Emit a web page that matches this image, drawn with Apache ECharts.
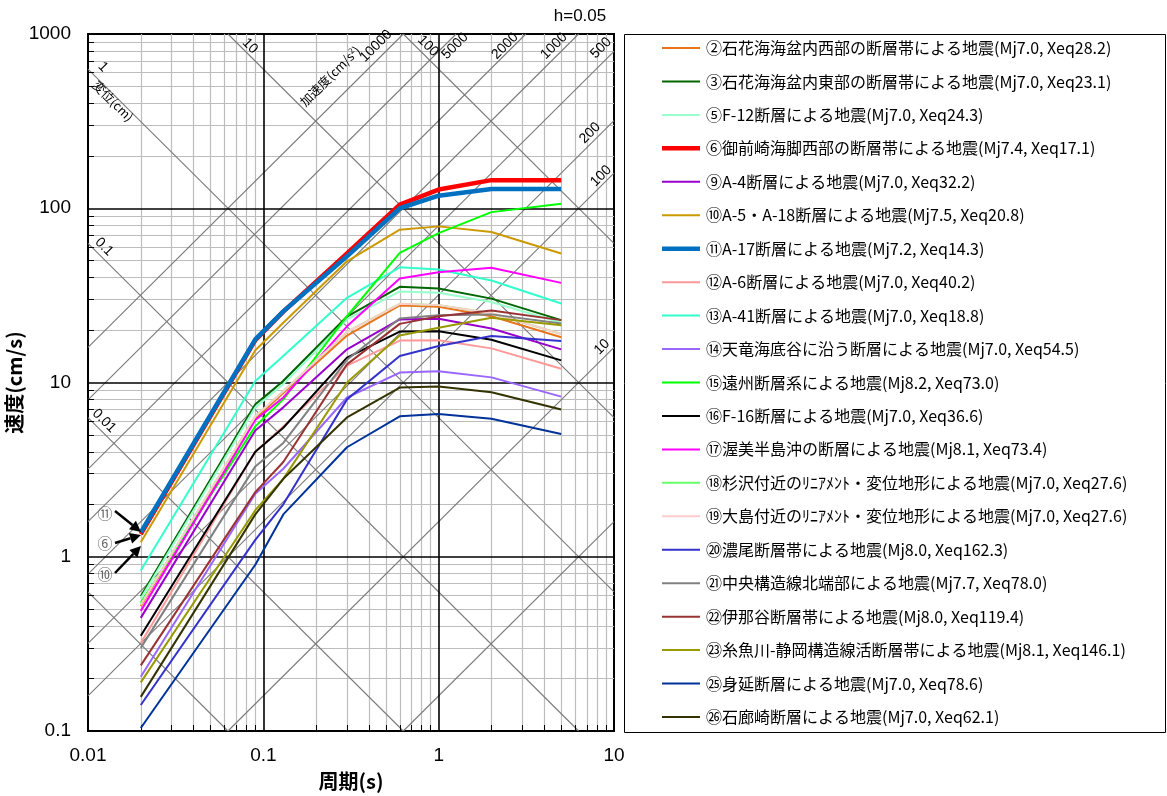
<!DOCTYPE html>
<html><head><meta charset="utf-8">
<script src="https://cdn.jsdelivr.net/npm/echarts@6/dist/echarts.min.js"></script>
<style>html,body{margin:0;padding:0;background:#fff}#c{width:1167px;height:796px}</style>
</head><body><div id="c"></div>
<script>
// ---- data ----
const periods = [0.02, 0.09, 0.13, 0.3, 0.6, 1, 2, 5];
const eq02 = [0.52, 6.2, 8.7, 18.6, 27.7, 27.2, 24.0, 18.2];
const eq03 = [0.593, 7.5, 10.2, 23.9, 35.4, 34.6, 30.3, 22.8];
const eq05 = [0.575, 7.2, 9.8, 23.0, 33.3, 32.7, 29.0, 22.0];
const eq06 = [1.35, 17.5, 25.5, 55, 105, 128, 145, 145];
const eq09 = [0.446, 5.3, 7.2, 15.5, 23.0, 23.2, 20.4, 15.5];
const eq10 = [1.21, 15.3, 22.0, 49.6, 75.3, 78.7, 73, 55];
const eq11 = [1.38, 17.7, 25.6, 53, 100, 118, 129, 129];
const eq12 = [0.32, 4.0, 5.6, 12.5, 17.4, 17.5, 15.7, 12.0];
const eq13 = [0.835, 10.2, 14.2, 30.6, 45.8, 44.5, 38.5, 28.4];
const eq14 = [0.205, 2.3, 3.2, 8.2, 11.4, 11.6, 10.7, 8.3];
const eq15 = [0.545, 5.6, 8.0, 24.0, 55.4, 72, 95, 106];
const eq16 = [0.352, 4.0, 5.5, 13.9, 19.6, 19.7, 17.6, 13.4];
const eq17 = [0.489, 6.1, 8.2, 21.0, 39.5, 42.9, 45.5, 37.3];
const eq18 = [0.53, 6.4, 8.9, 19.5, 28.3, 27.8, 25.0, 19.0];
const eq19 = [0.53, 6.4, 8.9, 19.5, 28.3, 27.8, 25.0, 19.0];
const eq20 = [0.141, 1.25, 2.0, 8.0, 14.2, 16.2, 18.5, 17.3];
const eq21 = [0.30, 3.3, 4.5, 13.5, 23.3, 24.3, 24.6, 21.8];
const eq22 = [0.238, 2.35, 3.5, 12.7, 21.7, 24.0, 25.9, 22.8];
const eq23 = [0.19, 1.85, 2.8, 10.0, 18.6, 20.6, 23.5, 21.3];
const eq25 = [0.104, 0.9, 1.75, 4.25, 6.4, 6.6, 6.2, 5.06];
const eq26 = [0.157, 1.75, 2.8, 6.3, 9.35, 9.5, 8.8, 7.0];

const seriesNames = [
  '②石花海海盆内西部の断層帯による地震(Mj7.0, Xeq28.2)',
  '③石花海海盆内東部の断層帯による地震(Mj7.0, Xeq23.1)',
  '⑤F-12断層による地震(Mj7.0, Xeq24.3)',
  '⑥御前崎海脚西部の断層帯による地震(Mj7.4, Xeq17.1)',
  '⑨A-4断層による地震(Mj7.0, Xeq32.2)',
  '⑩A-5・A-18断層による地震(Mj7.5, Xeq20.8)',
  '⑪A-17断層による地震(Mj7.2, Xeq14.3)',
  '⑫A-6断層による地震(Mj7.0, Xeq40.2)',
  '⑬A-41断層による地震(Mj7.0, Xeq18.8)',
  '⑭天竜海底谷に沿う断層による地震(Mj7.0, Xeq54.5)',
  '⑮遠州断層系による地震(Mj8.2, Xeq73.0)',
  '⑯F-16断層による地震(Mj7.0, Xeq36.6)',
  '⑰渥美半島沖の断層による地震(Mj8.1, Xeq73.4)',
  '⑱杉沢付近のﾘﾆｱﾒﾝﾄ・変位地形による地震(Mj7.0, Xeq27.6)',
  '⑲大島付近のﾘﾆｱﾒﾝﾄ・変位地形による地震(Mj7.0, Xeq27.6)',
  '⑳濃尾断層帯による地震(Mj8.0, Xeq162.3)',
  '㉑中央構造線北端部による地震(Mj7.7, Xeq78.0)',
  '㉒伊那谷断層帯による地震(Mj8.0, Xeq119.4)',
  '㉓糸魚川-静岡構造線活断層帯による地震(Mj8.1, Xeq146.1)',
  '㉕身延断層による地震(Mj7.0, Xeq78.6)',
  '㉖石廊崎断層による地震(Mj7.0, Xeq62.1)'
];
const seriesValues = [eq02, eq03, eq05, eq06, eq09, eq10, eq11, eq12, eq13, eq14, eq15, eq16, eq17, eq18, eq19, eq20, eq21, eq22, eq23, eq25, eq26];
const seriesColors = ['#E8741E','#006600','#99FFCC','#FF0000','#9900CC','#CC9900','#0070C0','#FF9999','#33FFCC','#9966FF','#00FF00','#000000','#FF00FF','#66FF66','#FFCCCC','#3333CC','#808080','#993333','#999900','#003399','#333300'];
const thickSeries = ['⑥', '⑪'];

const xTicks = [0.01, 0.1, 1, 10];
const yTicks = [0.1, 1, 10, 100, 1000];
const dispLines = [0.001, 0.01, 0.1, 1, 10, 100];   // cm
const accLines = [1, 10, 100, 200, 500, 1000, 2000, 5000, 10000]; // cm/s2

// ---- chart ----
const chart = echarts.init(document.getElementById('c'));
const FONT = '"Noto Sans CJK JP", "Liberation Sans", sans-serif';
const TMIN = 0.01, TMAX = 10, VMIN = 0.1, VMAX = 1000;
const TWO_PI = 2 * Math.PI;

function minorVals(lo, hi) {
  const out = [];
  for (let d = lo; d < hi * 0.999; d *= 10) for (let m = 2; m <= 9; m++) out.push(+(m * d).toPrecision(3));
  return out;
}
const minorX = minorVals(TMIN, TMAX), minorY = minorVals(VMIN, VMAX);
const majorX = xTicks.slice(1, -1), majorY = yTicks.slice(1, -1);

const gridMinor = [];
minorX.forEach(x => gridMinor.push({coords: [[x, VMIN], [x, VMAX]]}));
minorY.forEach(y => gridMinor.push({coords: [[TMIN, y], [TMAX, y]]}));
const gridMajor = [];
majorX.forEach(x => gridMajor.push({coords: [[x, VMIN], [x, VMAX]]}));
majorY.forEach(y => gridMajor.push({coords: [[TMIN, y], [TMAX, y]]}));
const tickLen = Math.pow(10, 6 / 175);
const ticks = [];
minorX.forEach(x => ticks.push({coords: [[x, VMIN], [x, VMIN * tickLen]]}));
minorY.forEach(y => ticks.push({coords: [[TMIN, y], [TMIN * tickLen, y]]}));

const diag = [];
dispLines.forEach(D => {
  const t1 = Math.max(TMIN, TWO_PI * D / VMAX), t2 = Math.min(TMAX, TWO_PI * D / VMIN);
  if (t1 < t2) diag.push({coords: [[t1, TWO_PI * D / t1], [t2, TWO_PI * D / t2]]});
});
accLines.forEach(A => {
  const t1 = Math.max(TMIN, TWO_PI * VMIN / A), t2 = Math.min(TMAX, TWO_PI * VMAX / A);
  if (t1 < t2) diag.push({coords: [[t1, A * t1 / TWO_PI], [t2, A * t2 / TWO_PI]]});
});

const series = [
  {type: 'lines', coordinateSystem: 'cartesian2d', silent: true, z: 1, polyline: false,
   lineStyle: {color: '#BDBDBD', width: 1.2, opacity: 1}, data: gridMinor},
  {type: 'lines', coordinateSystem: 'cartesian2d', silent: true, z: 2, polyline: false,
   lineStyle: {color: '#7A7A7A', width: 1.1, opacity: 1}, data: diag},
  {type: 'lines', coordinateSystem: 'cartesian2d', silent: true, z: 3, polyline: false,
   lineStyle: {color: '#000', width: 1.6, opacity: 1}, data: gridMajor},
  {type: 'lines', coordinateSystem: 'cartesian2d', silent: true, z: 3, polyline: false,
   lineStyle: {color: '#000', width: 1, opacity: 1}, data: ticks}
];
seriesNames.forEach((n, i) => {
  const thick = thickSeries.some(p => n.startsWith(p));
  series.push({
    type: 'line', name: n, symbol: 'none', z: 5 + i, silent: true,
    lineStyle: {color: seriesColors[i], width: thick ? 4.5 : 2},
    data: periods.map((t, k) => [t, seriesValues[i][k]])
  });
});

const fmt = v => String(+(+v).toPrecision(3));
const option = {
  animation: false,
  backgroundColor: '#fff',
  grid: {left: 88, top: 34, width: 526, height: 699, show: true, borderColor: '#000', borderWidth: 2, backgroundColor: 'transparent'},
  xAxis: {type: 'log', logBase: 10, min: TMIN, max: TMAX,
    axisLine: {show: true, onZero: false, lineStyle: {color: '#000', width: 2}},
    axisTick: {show: false}, splitLine: {show: false}, minorTick: {show: false},
    axisLabel: {color: '#000', fontSize: 19, fontFamily: '"Liberation Sans", sans-serif', margin: 15, formatter: fmt},
    name: '周期(s)', nameLocation: 'middle', nameGap: 40,
    nameTextStyle: {color: '#000', fontSize: 20, fontFamily: FONT, fontWeight: 'bold'}},
  yAxis: {type: 'log', logBase: 10, min: VMIN, max: VMAX,
    axisLine: {show: true, onZero: false, lineStyle: {color: '#000', width: 2}},
    axisTick: {show: false}, splitLine: {show: false}, minorTick: {show: false},
    axisLabel: {color: '#000', fontSize: 19, fontFamily: '"Liberation Sans", sans-serif', margin: 17, formatter: fmt},
    name: '速度(cm/s)', nameLocation: 'middle', nameGap: 62, nameRotate: 90,
    nameTextStyle: {color: '#000', fontSize: 20, fontFamily: FONT, fontWeight: 'bold'}},
  series: series
};
chart.setOption(option);

// ---- annotations / legend (graphic) ----
const g = [];
function txt(x, y, s, rot, size, extra) {
  g.push(Object.assign({type: 'text', x: x, y: y, rotation: rot || 0, z: 50, silent: true,
    style: Object.assign({text: s, fontSize: size || 13, fontFamily: '"Liberation Sans", "Noto Sans CJK JP", sans-serif', fill: '#000', align: 'center', verticalAlign: 'middle'}, extra || {})}));
}
const R = Math.PI / 4;
// displacement labels
txt(250, 46, '10', -R, 14);
txt(428, 46, '100', -R, 14);
txt(103, 67, '1', -R, 14);
txt(104, 247, '0.1', -R, 14);
txt(104, 421, '0.01', -R, 14);
txt(113, 101, '変位(cm)', -R, 12.5, {fontFamily: FONT});
// acceleration labels
g.push({type: 'text', x: 330, y: 76, rotation: R, z: 50, silent: true,
  style: {text: '加速度(cm/s{s|2})', fontSize: 12.5, fontFamily: FONT, fill: '#000', align: 'center', verticalAlign: 'middle',
    rich: {s: {fontSize: 8, verticalAlign: 'top', fontFamily: FONT, padding: [0, 0, 6, 0]}}}});
txt(376, 46, '10000', R, 14);
txt(455, 46, '5000', R, 14);
txt(505, 46, '2000', R, 14);
txt(554, 46, '1000', R, 14);
txt(601, 48, '500', R, 14);
txt(590, 133, '200', R, 14);
txt(601, 176, '100', R, 14);
txt(602, 347, '10', R, 14);
// title
txt(580, 16, 'h=0.05', 0, 17);

// arrows to series (annotation)
const arrows = [['⑪', [105, 513], [115, 511], [141, 532]], ['⑥', [105, 543], [115, 543], [141, 535]], ['⑩', [105, 574], [115, 573], [141, 546]]];
arrows.forEach(a => {
  txt(a[1][0], a[1][1], a[0], 0, 15, {fill: '#666', fontFamily: FONT});
  const [x1, y1] = a[2], [x2, y2] = a[3];
  const ang = Math.atan2(y2 - y1, x2 - x1);
  const hl = 11, hw = 5.5;
  const bx = x2 - hl * Math.cos(ang), by = y2 - hl * Math.sin(ang);
  g.push({type: 'line', z: 50, silent: true, shape: {x1: x1, y1: y1, x2: bx, y2: by}, style: {stroke: '#000', lineWidth: 2.5}});
  g.push({type: 'polygon', z: 50, silent: true, shape: {points: [[x2, y2],
    [bx + hw * Math.sin(ang), by - hw * Math.cos(ang)], [bx - hw * Math.sin(ang), by + hw * Math.cos(ang)]]}, style: {fill: '#000'}});
});

// legend box
g.push({type: 'rect', z: 40, silent: true, shape: {x: 624.5, y: 34.5, width: 541, height: 698}, style: {fill: '#fff', stroke: '#000', lineWidth: 1}});
seriesNames.forEach((n, i) => {
  const y = 48 + i * 33.45;
  const thick = thickSeries.some(p => n.startsWith(p));
  g.push({type: 'line', z: 41, silent: true, shape: {x1: 662, y1: y, x2: 700, y2: y}, style: {stroke: seriesColors[i], lineWidth: thick ? 4.5 : 2}});
  g.push({type: 'text', z: 41, silent: true, x: 706, y: y, style: {text: n, fontSize: 16, fontFamily: FONT, fill: '#000', align: 'left', verticalAlign: 'middle'}});
});
chart.setOption({graphic: g});
</script></body></html>
